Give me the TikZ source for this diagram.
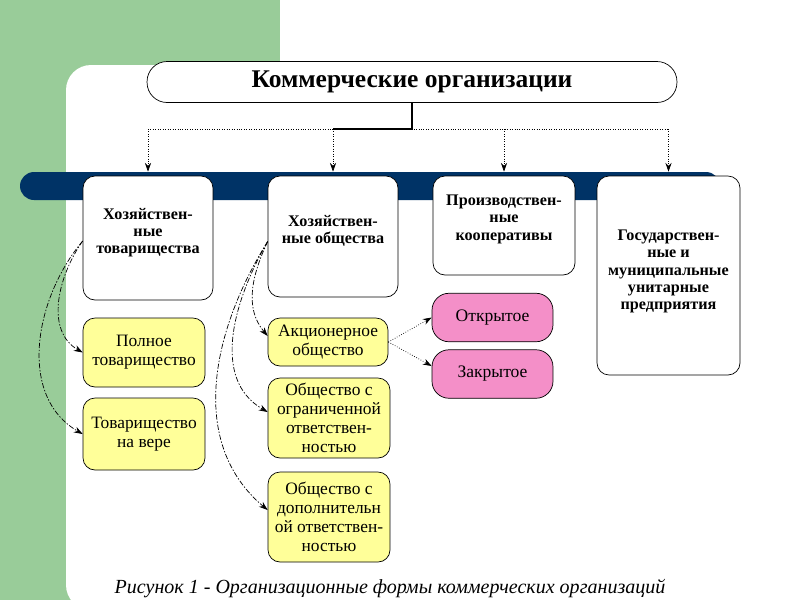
\documentclass[tikz,border=0pt]{standalone}
\usepackage{fontspec}
\setmainfont{Liberation Serif}
\usepackage{xcolor}
\usetikzlibrary{calc, arrows.meta}

\definecolor{slidegreen}{HTML}{99CC99}
\definecolor{barnavy}{HTML}{003366}
\definecolor{boxyellow}{HTML}{FFFF99}
\definecolor{boxpink}{HTML}{F48FC8}

\begin{document}
\begin{tikzpicture}[
      x=0.02cm, y=-0.02cm,
      every node/.style={inner sep=1mm},
      headbox/.style={draw, thin, fill=white, rounded corners=0.4cm,
        minimum width=10.6cm, minimum height=0.82cm,
        font=\bfseries\fontsize{14.5}{16}\selectfont},
      wbox/.style={draw, thin, fill=white, rounded corners=0.24cm},
      wtext/.style={anchor=north, align=center,
        font=\bfseries\fontsize{9.2}{9.8}\selectfont},
      ybox/.style={draw, thin, fill=boxyellow, rounded corners=0.24cm,
        align=center, minimum width=2.44cm, inner sep=0.5mm,
        font=\fontsize{9.9}{10.9}\selectfont},
      pbox/.style={draw, thin, fill=boxpink, rounded corners=0.34cm,
        align=center, minimum width=2.42cm, minimum height=0.97cm,
        font=\fontsize{10}{11}\selectfont},
      toparrow/.style={densely dotted, -{Stealth[length=5pt,width=3.5pt]}},
      curvearrow/.style={thin, dash pattern=on 3pt off 1pt on 0.8pt off 1pt,
        -{Stealth[length=5pt,width=3.5pt]}},
      sidearrow/.style={thin, densely dotted, -{Stealth[length=5pt,width=3.5pt]}}
    ]
      \useasboundingbox (0,0) rectangle (800,600);
      % slide background
      \fill[slidegreen] (0,0) rectangle (280,600);
      \fill[white, rounded corners=0.5cm] (66,610) -- (66,65) -- (810,65) -- (810,610) -- cycle;
      \fill[barnavy, rounded corners=0.28cm] (20,172) rectangle (720,200);

      % top level
      \node[headbox] (title) at (412,82) {Коммерческие организации};

      % four kinds
      \node[wbox, minimum width=2.6cm, minimum height=2.48cm,
        label={[wtext, yshift=-0.54cm]north:Хозяйствен-\\ные\\товарищества}] (b1) at (148,238) {};
      \node[wbox, minimum width=2.6cm, minimum height=2.42cm,
        label={[wtext, yshift=-0.68cm]north:Хозяйствен-\\ные общества}] (b2) at (333,236.5) {};
      \node[wbox, minimum width=2.84cm, minimum height=1.98cm,
        label={[wtext, yshift=-0.28cm]north:Производствен-\\ные\\кооперативы}] (b3) at (504,225.5) {};
      \node[wbox, minimum width=2.86cm, minimum height=3.98cm,
        label={[wtext, yshift=-0.98cm]north:Государствен-\\ные и\\муниципальные\\унитарные\\предприятия}] (b4) at (668.5,275.5) {};

      % forms
      \node[ybox, minimum height=1.38cm] (y1) at (144,352.5) {Полное\\товарищество};
      \node[ybox, minimum height=1.44cm] (y2) at (144,434) {Товарищество\\на вере};
      \node[ybox, minimum width=2.4cm, minimum height=0.96cm] (y3) at (328,342) {Акционерное\\общество};
      \node[ybox, minimum height=1.6cm] (y4) at (329,418) {Общество с\\ограниченной\\ответствен-\\ностью};
      \node[ybox, minimum height=1.8cm] (y5) at (329,517) {Общество с\\дополнительн\\ой ответствен-\\ностью};
      \node[pbox] (p1) at (492.5,317.5) {Открытое};
      \node[pbox] (p2) at (492.5,374) {Закрытое};

      % connectors
      \coordinate (j) at (412,129);
      \draw[semithick] (title.south) -- (j) -- (j -| b2.north);
      \draw[densely dotted] (j -| b1.north) -- (j -| b4.north);
      \foreach \b in {b1,b2,b3,b4}
        \draw[toparrow] (j -| \b.north) -- ([yshift=0.08cm]\b.north);

      \draw[curvearrow] ([yshift=-0.06cm]b1.west) to[out=235, in=150] (y1.west);
      \draw[curvearrow] ([yshift=-0.06cm]b1.west) to[out=230, in=150] (y2.west);
      \draw[curvearrow] ([yshift=-0.1cm]b2.west) to[out=245, in=130] ([yshift=0.12cm]y3.west);
      \draw[curvearrow] ([yshift=-0.1cm]b2.west) to[out=240, in=150] ([yshift=0.12cm]y4.west);
      \draw[curvearrow] ([yshift=-0.1cm]b2.west) to[out=238, in=140] ([yshift=0.14cm]y5.west);

      \draw[sidearrow] (y3.east) -- (p1.west);
      \draw[sidearrow] (y3.east) -- ([yshift=0.16cm]p2.west);

      % caption at the lower edge
      \node[anchor=base, font=\itshape\fontsize{11.4}{13}\selectfont] (cap) at (390,593)
        {Рисунок 1 - Организационные формы коммерческих организаций};
    \end{tikzpicture}
\end{document}
